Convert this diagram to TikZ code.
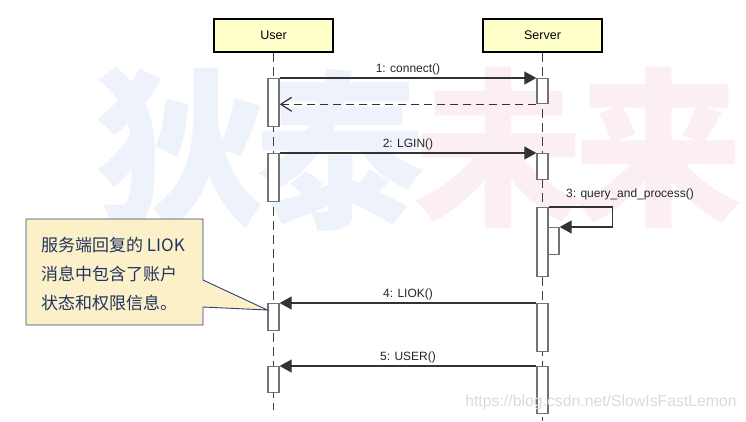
\documentclass[tikz,border=0pt]{standalone}
\usepackage{fontspec}
\setmainfont{Liberation Sans}
\newfontfamily\cjk{Noto Sans CJK SC}
\usetikzlibrary{arrows.meta}

\definecolor{headfill}{RGB}{255,255,204}
\definecolor{notefill}{RGB}{252,240,200}
\definecolor{noteline}{RGB}{46,67,116}
\definecolor{notetext}{RGB}{31,52,96}
\definecolor{wmblue}{RGB}{238,242,251}
\definecolor{wmpink}{RGB}{251,239,242}
\definecolor{wmgrey}{RGB}{218,218,218}

\tikzset{
  head/.style={draw=black, line width=2.2pt, fill=headfill, minimum width=119pt,
    minimum height=33pt, inner sep=0pt, font=\fontsize{12.5}{14}\selectfont},
  life/.style={draw=black!75, line width=1pt, dash pattern=on 9pt off 5pt},
  act/.style={draw=black!55, line width=1.3pt, fill=white, minimum width=11pt,
    inner sep=0pt, anchor=north},
  msg/.style={draw=black!80, line width=1.2pt, -{Triangle[length=12pt,width=13pt]}},
  ret/.style={draw=black!80, line width=1.2pt, dash pattern=on 8pt off 5pt,
    -{Straight Barb[length=11pt,width=14pt]}},
  lbl/.style={font=\fontsize{12}{14}\selectfont, text=black!85, inner sep=2pt},
  wm/.style={font=\cjk\bfseries\fontsize{170}{170}\selectfont, inner sep=0pt},
}

\begin{document}
\begin{tikzpicture}[x=1pt, y=-1pt]
  \useasboundingbox (0,0) rectangle (746,421);

  % Watermark
  \node[wm, text=wmblue] (wm1) at (180,148) {狄};
  \node[wm, text=wmblue] (wm2) at (340,150) {泰};
  \node[wm, text=wmpink] (wm3) at (498,148) {未};
  \node[wm, text=wmpink] (wm4) at (658,148) {来};

  % Objects
  \node[head] (user) at (273.5,35.5) {User};
  \node[head] (server) at (542.5,35.5) {Server};

  % Lifelines
  \coordinate (uend) at (273.5,410);
  \coordinate (send) at (542.5,421);
  \draw[life] (user.south) -- (uend);
  \draw[life] (server.south) -- (send);

  % Activations
  \node[act, minimum height=48pt] (u1) at (273.5,78) {};
  \node[act, minimum height=25pt] (s1) at (542.5,78) {};
  \node[act, minimum height=48pt] (u2) at (273.5,153) {};
  \node[act, minimum height=26pt] (s2) at (542.5,153) {};
  \node[act, minimum height=69pt] (s3) at (542.5,207) {};
  \node[act, minimum height=27pt] (s3b) at (553.5,227) {};
  \node[act, minimum height=27pt] (u4) at (273.5,303) {};
  \node[act, minimum height=48pt] (s4) at (542.5,303) {};
  \node[act, minimum height=26pt] (u5) at (273.5,366) {};
  \node[act, minimum height=47pt] (s5) at (542.5,366) {};

  % Messages
  \draw[msg] (u1.north east) -- (s1.north west) node[lbl, midway, above] {1: connect()};
  \draw[ret] (s1.south west) -- (s1.south west -| u1.east);
  \draw[msg] (u2.north east) -- (s2.north west) node[lbl, midway, above] {2: LGIN()};
  \draw[msg] (s3.north east) -- ++(64,0) |- (s3b.north east);
  \node[lbl] (q3) at (630,194) {3: query\_and\_process()};
  \draw[msg] (s4.north west) -- (u4.north east) node[lbl, midway, above] {4: LIOK()};
  \draw[msg] (s5.north west) -- (u5.north east) node[lbl, midway, above] {5: USER()};

  % Note
  \draw[draw=noteline, line width=0.9pt, fill=notefill]
    (26,219) -- (203,219) -- (203,280) -- ([yshift=-7pt]u4.north west)
    -- (203,307) -- (203,325) -- (26,325) -- cycle;
  \node[anchor=west, align=left, text=notetext, inner sep=0pt,
    font=\cjk\fontsize{17}{29}\selectfont] (note) at (41,274)
    {服务端回复的 LIOK\\消息中包含了账户\\状态和权限信息。};

  % Site mark
  \node[font=\fontsize{15.8}{18}\selectfont, text=wmgrey, inner sep=0pt] (site) at (601,402)
    {https://blog.csdn.net/SlowIsFastLemon};
\end{tikzpicture}
\end{document}
